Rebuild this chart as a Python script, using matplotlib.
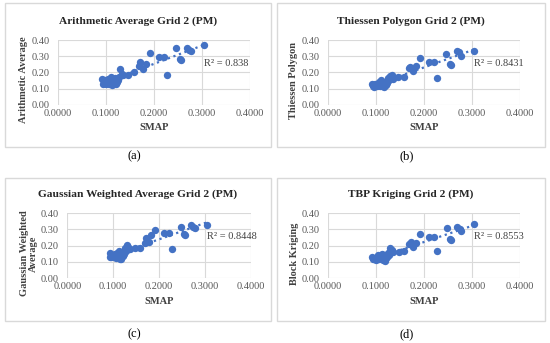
import numpy as np
import matplotlib
matplotlib.use("Agg")
import matplotlib.pyplot as plt
from matplotlib.patches import Rectangle

plt.rcParams['font.family'] = ['Liberation Serif', 'DejaVu Serif']

# SMAP soil moisture (shared x values)
smap = [0.092, 0.094, 0.096, 0.099, 0.101, 0.103, 0.105, 0.107, 0.109, 0.111,
        0.112, 0.114, 0.115, 0.117, 0.118, 0.120, 0.121, 0.123, 0.125, 0.127,
        0.130, 0.133, 0.136, 0.147, 0.159, 0.169, 0.172, 0.178, 0.183, 0.192,
        0.211, 0.221, 0.228, 0.247, 0.255, 0.257, 0.269, 0.274, 0.277, 0.305]

arith = [0.158, 0.130, 0.140, 0.150, 0.130, 0.145, 0.156, 0.127, 0.142, 0.135,
         0.173, 0.120, 0.150, 0.142, 0.125, 0.163, 0.130, 0.140, 0.150, 0.170,
         0.219, 0.190, 0.183, 0.183, 0.204, 0.242, 0.267, 0.219, 0.250, 0.319,
         0.294, 0.294, 0.183, 0.350, 0.281, 0.275, 0.350, 0.337, 0.329, 0.367]

thiessen = [0.131, 0.117, 0.110, 0.125, 0.121, 0.115, 0.130, 0.142, 0.117, 0.125,
            0.152, 0.117, 0.140, 0.125, 0.110, 0.142, 0.120, 0.135, 0.163, 0.150,
            0.179, 0.183, 0.160, 0.173, 0.173, 0.225, 0.235, 0.208, 0.240, 0.288,
            0.267, 0.267, 0.163, 0.313, 0.250, 0.245, 0.333, 0.325, 0.300, 0.333]

gauss = [0.153, 0.132, 0.128, 0.140, 0.128, 0.146, 0.122, 0.140, 0.153, 0.132,
         0.169, 0.115, 0.142, 0.130, 0.120, 0.163, 0.135, 0.150, 0.184, 0.170,
         0.204, 0.190, 0.177, 0.184, 0.184, 0.219, 0.245, 0.225, 0.266, 0.297,
         0.276, 0.276, 0.177, 0.313, 0.272, 0.265, 0.328, 0.318, 0.310, 0.328]

kriging = [0.132, 0.115, 0.120, 0.126, 0.110, 0.130, 0.142, 0.115, 0.125, 0.135,
           0.148, 0.110, 0.140, 0.122, 0.108, 0.136, 0.125, 0.130, 0.157, 0.145,
           0.184, 0.173, 0.160, 0.163, 0.169, 0.210, 0.225, 0.194, 0.219, 0.272,
           0.256, 0.256, 0.169, 0.307, 0.239, 0.232, 0.318, 0.305, 0.293, 0.334]

titles = ["Arithmetic Average Grid 2 (PM)", "Thiessen Polygon Grid 2 (PM)",
          "Gaussian Weighted Average Grid 2 (PM)", "TBP Kriging Grid 2 (PM)"]
ylabels = ["Arithmetic Average", "Thiessen Polygon",
           "Gaussian Weighted\nAverage", "Block Kriging"]
r2_labels = ["R\u00b2 = 0.838", "R\u00b2 = 0.8431", "R\u00b2 = 0.8448", "R\u00b2 = 0.8553"]
captions = ["(a)", "(b)", "(c)", "(d)"]
series = [arith, thiessen, gauss, kriging]

W, H = 550, 343
fig = plt.figure(figsize=(5.5, 3.43), dpi=100)

# axes rectangles in pixels: left, top, right, bottom
ax_px = [(57.7, 40, 249.7, 104.7), (327.7, 40, 519.7, 104.7),
         (67.3, 213.3, 251, 278), (328, 213.3, 520, 278)]
# panel boxes in pixels: left, top, right, bottom
box_px = [(5, 3, 271, 147), (277, 3, 545, 147),
          (5, 178, 271, 321), (277, 178, 545, 321)]
title_y = [21, 21, 194, 194]
cap_y = [156, 156, 334, 334]

blue = "#4472C4"
grey = "#595959"

for i in range(4):
    bl, bt, br, bb = box_px[i]
    fig.patches.append(Rectangle((bl / W, 1 - bb / H), (br - bl) / W, (bb - bt) / H,
                                 transform=fig.transFigure, fill=False,
                                 edgecolor="#D9D9D9", linewidth=1))
    l, t, r, b = ax_px[i]
    ax = fig.add_axes([l / W, 1 - b / H, (r - l) / W, (b - t) / H])
    y = series[i]
    ax.scatter(smap, y, s=28, color=blue, zorder=3, linewidths=0)
    k, c = np.polyfit(smap, y, 1)
    xs = np.array([min(smap), max(smap)])
    ax.plot(xs, k * xs + c, linestyle=":", color=blue, linewidth=1.6, zorder=2)
    ax.set_xlim(0, 0.4)
    ax.set_ylim(0, 0.4)
    ax.set_xticks([0, 0.1, 0.2, 0.3, 0.4])
    ax.set_xticklabels(["0.0000", "0.1000", "0.2000", "0.3000", "0.4000"])
    ax.set_yticks([0, 0.1, 0.2, 0.3, 0.4])
    ax.set_yticklabels(["0.00", "0.10", "0.20", "0.30", "0.40"])
    ax.tick_params(axis="x", length=0, labelsize=7.5, colors=grey, pad=3)
    ax.tick_params(axis="y", length=0, labelsize=7.5, colors=grey, pad=6)
    ax.grid(True, color="#D9D9D9", linewidth=0.8)
    ax.set_axisbelow(True)
    for s in ax.spines.values():
        s.set_visible(False)
    ax.set_xlabel("SMAP", fontsize=7.5, fontweight="bold", color="#404040", labelpad=4)
    ax.set_ylabel(ylabels[i], fontsize=7.5, fontweight="bold", color="#404040",
                  labelpad=2, linespacing=1.0)
    ax.yaxis.label.set_y(0.38)
    ax.text(0.305, 0.255, r2_labels[i], fontsize=7.5, color="#404040", va="center")
    # chart title centred on the chart area, as in Excel
    fig.text((bl + br) / 2 / W, 1 - title_y[i] / H, titles[i], ha="center", va="center",
             fontsize=8.2, fontweight="bold", color="#262626")
    fig.text(((bl + br) / 2 - 4) / W, 1 - cap_y[i] / H, captions[i],
             ha="center", va="center", fontsize=9, color="black")

fig.savefig("out.png", dpi=100)
